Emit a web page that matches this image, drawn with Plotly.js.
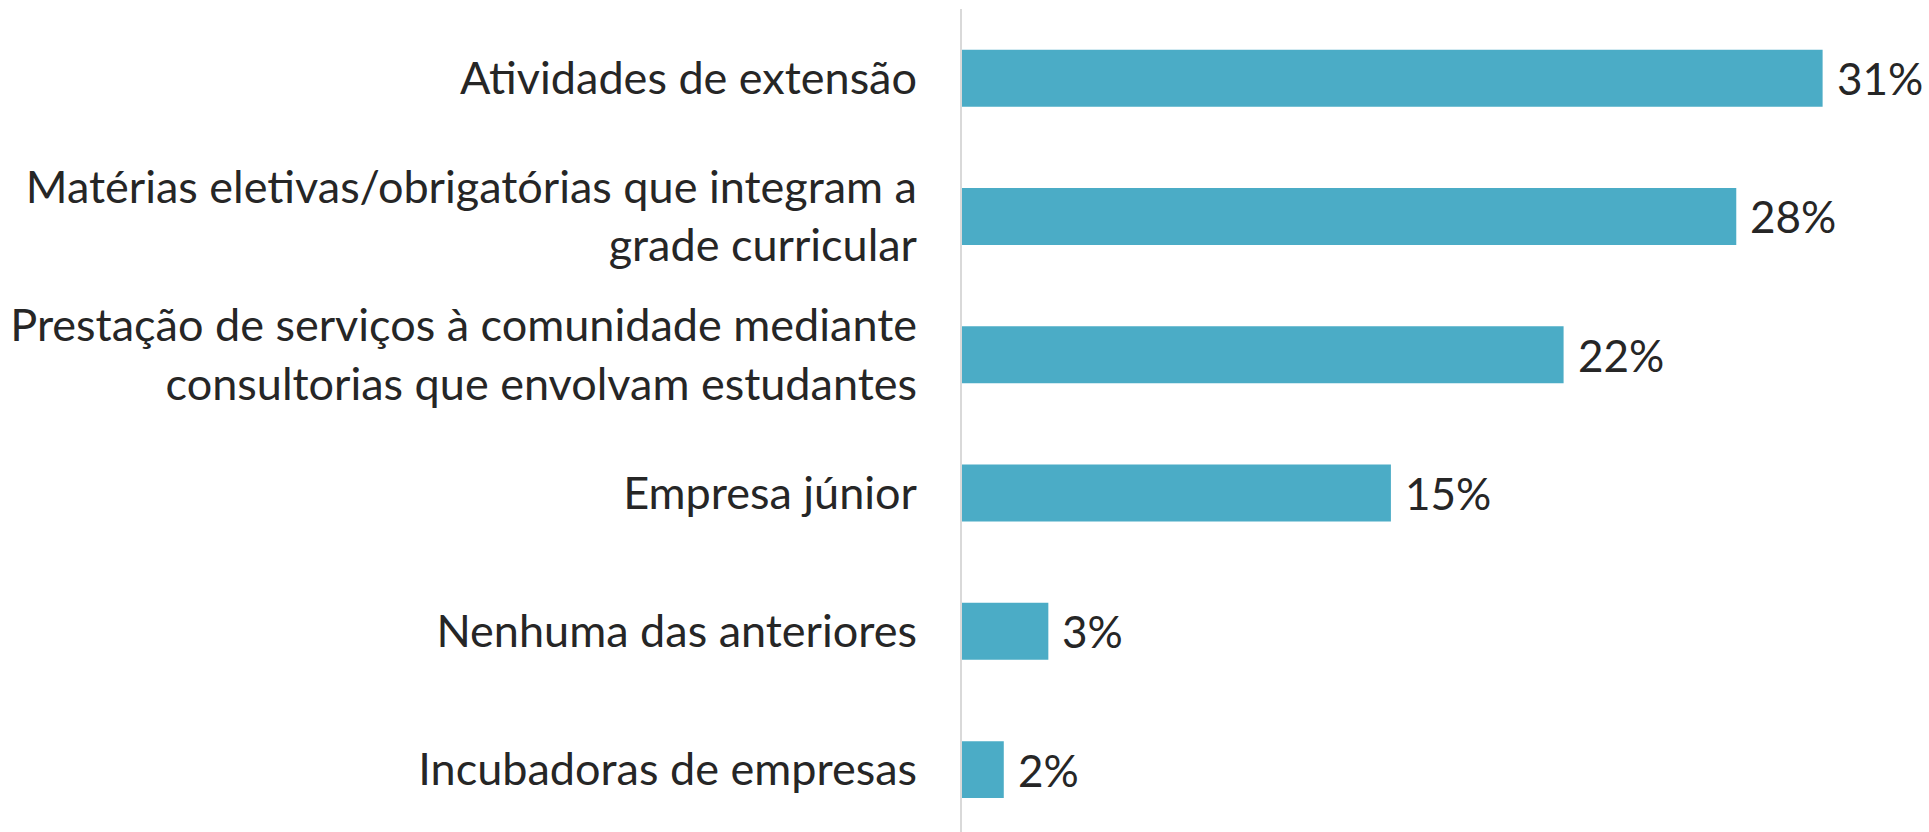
<!DOCTYPE html>
<html>
<head>
<meta charset="utf-8">
<script src="https://cdn.plot.ly/plotly-3.0.1.min.js"></script>
<style>html,body{margin:0;padding:0;background:#fff;}#chart{width:1929px;height:832px;}</style>
</head>
<body>
<div id="chart"></div>
<script>
const categories = [
  "Atividades de extensão",
  "Matérias eletivas/obrigatórias que integram a<br>grade curricular",
  "Prestação de serviços à comunidade mediante<br>consultorias que envolvam estudantes",
  "Empresa júnior",
  "Nenhuma das anteriores",
  "Incubadoras de empresas"
];
const values = [30.9, 27.8, 21.6, 15.4, 3.1, 1.5];
const valueLabels = ["31%", "28%", "22%", "15%", "3%", "2%"];

const FONT = "Lato, 'Open Sans', sans-serif";
const TEXT_COLOR = "#262626";

const trace = {
  type: "bar",
  orientation: "h",
  y: categories,
  x: values,
  marker: {color: "#4BACC6"},
  hoverinfo: "skip"
};

const annotations = categories.map((c, i) => ({
  x: values[i], y: c, xref: "x", yref: "y",
  text: valueLabels[i], showarrow: false,
  xanchor: "left", yanchor: "middle", xshift: 12,
  font: {family: FONT, size: 44, color: TEXT_COLOR}
}));

const layout = {
  width: 1929, height: 832,
  margin: {l: 962, r: 0, t: 9, b: 0},
  paper_bgcolor: "#ffffff", plot_bgcolor: "#ffffff",
  showlegend: false,
  bargap: 0.588,
  xaxis: {range: [0, 34.72], showgrid: false, zeroline: false, showline: false, showticklabels: false, ticks: ""},
  yaxis: {
    type: "category", range: [5.451, -0.5],
    showgrid: false, zeroline: false,
    showline: true, linecolor: "#d9d9d9", linewidth: 2,
    ticks: "", ticklabelstandoff: 34,
    tickfont: {family: FONT, size: 45, color: TEXT_COLOR}
  },
  annotations: annotations
};

Plotly.newPlot("chart", [trace], layout, {displayModeBar: false, staticPlot: true});
</script>
</body>
</html>
